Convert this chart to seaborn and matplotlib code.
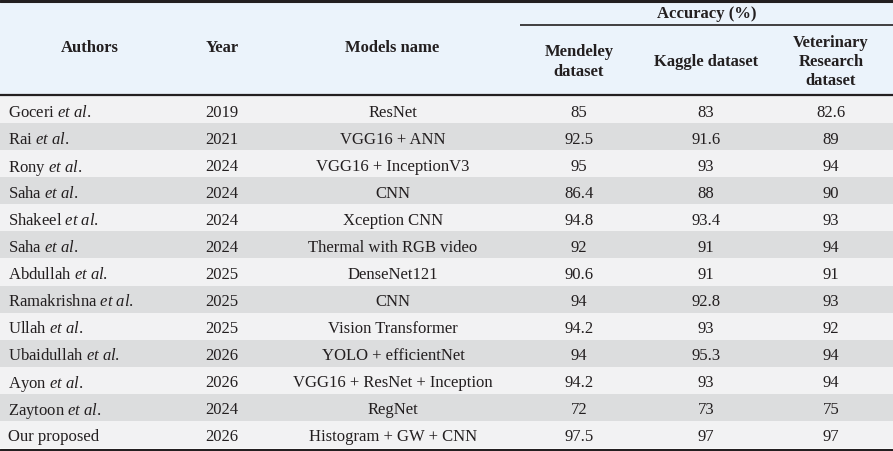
import numpy as np
import matplotlib
matplotlib.use("Agg")
import matplotlib.pyplot as plt
from matplotlib.colors import ListedColormap
import seaborn as sns

# ---- data ----
authors = ["Goceri", "Rai", "Rony", "Saha", "Shakeel", "Saha", "Abdullah",
           "Ramakrishna", "Ullah", "Ubaidullah", "Ayon", "Zaytoon", "Our proposed"]
has_etal = [True] * 12 + [False]
years = [2019, 2021, 2024, 2024, 2024, 2024, 2025, 2025, 2025, 2026, 2026, 2024, 2026]
models = ["ResNet", "VGG16 + ANN", "VGG16 + InceptionV3", "CNN", "Xception CNN",
          "Thermal with RGB video", "DenseNet121", "CNN", "Vision Transformer",
          "YOLO + efficientNet", "VGG16 + ResNet + Inception", "RegNet",
          "Histogram + GW + CNN"]
mendeley = [85, 92.5, 95, 86.4, 94.8, 92, 90.6, 94, 94.2, 94, 94.2, 72, 97.5]
kaggle = [83, 91.6, 93, 88, 93.4, 91, 91, 92.8, 93, 95.3, 93, 73, 97]
veterinary = [82.6, 89, 94, 90, 93, 94, 91, 93, 92, 94, 94, 75, 97]

col_headers = ["Authors", "Year", "Models name"]
acc_header = "Accuracy (%)"
acc_subheaders = ["Mendeley\ndataset", "Kaggle dataset", "Veterinary\nResearch\ndataset"]

# ---- style ----
sns.set_theme(style="white")
plt.rcParams["font.family"] = ["Liberation Serif", "DejaVu Serif"]
plt.rcParams["mathtext.fontset"] = "custom"
plt.rcParams["mathtext.rm"] = "Liberation Serif"
plt.rcParams["mathtext.it"] = "Liberation Serif:italic"
plt.rcParams["mathtext.bf"] = "Liberation Serif:bold"
TXT = "#231F20"
FS = 12
W, H = 893, 452

fig = plt.figure(figsize=(W / 100, H / 100), dpi=100)

# body stripes via heatmap
n = len(authors)
stripes = np.array([[i % 2] for i in range(n)])
ax = fig.add_axes([0, 3 / H, 1, 352 / H])
sns.heatmap(stripes, ax=ax, cmap=ListedColormap(["#F2F2F3", "#DCDDDE"]),
            cbar=False, xticklabels=False, yticklabels=False, linewidths=0)
ax.set_xlim(0, 1)

cx = {"year": 222 / W, "model": 393 / W, "m": 579 / W, "k": 706 / W, "v": 831 / W}
for i in range(n):
    y = i + 0.5
    name = authors[i] + (r" $\mathit{et\ al}$." if has_etal[i] else "")
    ax.text(8 / W, y, name, ha="left", va="center_baseline",
            fontsize=FS, color=TXT)
    ax.text(cx["year"], y, str(years[i]), ha="center", va="center_baseline",
            fontsize=FS, color=TXT)
    ax.text(cx["model"], y, models[i], ha="center", va="center_baseline",
            fontsize=FS, color=TXT)
    ax.text(cx["m"], y, f"{mendeley[i]:g}", ha="center", va="center_baseline",
            fontsize=FS, color=TXT)
    ax.text(cx["k"], y, f"{kaggle[i]:g}", ha="center", va="center_baseline",
            fontsize=FS, color=TXT)
    ax.text(cx["v"], y, f"{veterinary[i]:g}", ha="center", va="center_baseline",
            fontsize=FS, color=TXT)

# overlay for header & rules
ov = fig.add_axes([0, 0, 1, 1])
ov.set_xlim(0, W)
ov.set_ylim(H, 0)
ov.axis("off")
ov.axhspan(0, 96, color="#EBF3FB", zorder=0)
ov.axhline(1.5, color=TXT, lw=2.2, zorder=3)
ov.axhline(96, color=TXT, lw=1.6, zorder=3)
ov.axhline(450.5, color=TXT, lw=2.2, zorder=3)
ov.plot([520, W], [26, 26], color=TXT, lw=1.2, zorder=3, solid_capstyle="butt")

for label, x in zip(col_headers, [90, 222, 392]):
    ov.text(x, 48, label, ha="center", va="center", fontsize=FS,
            fontweight="bold", color=TXT)
ov.text(707, 14, acc_header, ha="center", va="center", fontsize=FS,
        fontweight="bold", color=TXT)
for label, x in zip(acc_subheaders, [579, 706, 831]):
    ov.text(x, 62, label, ha="center", va="center", fontsize=FS,
            fontweight="bold", color=TXT, linespacing=1.25)

fig.savefig("out.png", dpi=100)
